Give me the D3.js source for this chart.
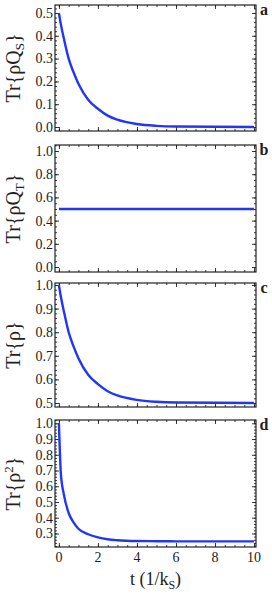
<!DOCTYPE html>
<html>
<head>
<meta charset="utf-8">
<script src="https://cdn.jsdelivr.net/npm/d3@7"></script>
<style>
  body { margin: 0; background: #fff; }
  svg { font-family: "Liberation Serif", "Times New Roman", serif; }
</style>
</head>
<body>
<div id="chart"></div>
<script>
// time axis (units of 1/kS), shared by all four panels
const t      = [0, 0.1, 0.25, 0.5, 0.75, 1, 1.5, 2, 2.5, 3, 4, 5, 6, 8, 10];
const trQS   = [0.5, 0.45, 0.39, 0.30, 0.24, 0.19, 0.12, 0.08, 0.05, 0.032, 0.013, 0.005, 0.002, 0.001, 0.0];
const trQT   = [0.5, 0.5, 0.5, 0.5, 0.5, 0.5, 0.5, 0.5, 0.5, 0.5, 0.5, 0.5, 0.5, 0.5, 0.5];
const trRho  = [1.0, 0.95, 0.89, 0.80, 0.74, 0.69, 0.62, 0.58, 0.55, 0.532, 0.513, 0.505, 0.502, 0.501, 0.5];
const trRho2 = [1.0, 0.68, 0.55, 0.43, 0.37, 0.33, 0.295, 0.275, 0.263, 0.257, 0.252, 0.251, 0.25, 0.25, 0.25];

const xTicks = [0, 2, 4, 6, 8, 10];
const panelLetters = ['a', 'b', 'c', 'd'];

const width = 272, height = 597;
const left = 55, right = 256;
const blue = '#2236f5';

const panels = [
  {values: trQS,   top: 5,   bottom: 131, domain: [-0.0175, 0.535], minor: 0.02,
   ticks: [0, 0.1, 0.2, 0.3, 0.4, 0.5], label: ['Tr{ρQ', 'S', '}', 'sub']},
  {values: trQT,   top: 145, bottom: 272, domain: [-0.043, 1.052], minor: 0.05,
   ticks: [0, 0.2, 0.4, 0.6, 0.8, 1.0], label: ['Tr{ρQ', 'T', '}', 'sub']},
  {values: trRho,  top: 283, bottom: 407, domain: [0.483, 1.0085], minor: 0.02,
   ticks: [0.5, 0.6, 0.7, 0.8, 0.9, 1.0], label: ['Tr{ρ}', '', '', '']},
  {values: trRho2, top: 420, bottom: 547, domain: [0.214, 1.021], minor: 0.02,
   ticks: [0.3, 0.4, 0.5, 0.6, 0.7, 0.8, 0.9, 1.0], label: ['Tr{ρ', '2', '}', 'sup']}
];

const svg = d3.select('#chart').append('svg')
  .attr('width', width).attr('height', height);

const x = d3.scaleLinear([-0.2, 10.1], [left, right]);
const xMinor = d3.range(0, 10.01, 0.5);

function minorRange(domain, step){
  let lo = Math.ceil(domain[0] / step - 1e-6) * step;
  return d3.range(lo, domain[1] + 1e-9, step).map(v => +v.toFixed(4));
}

panels.forEach((p, i) => {
  const y = d3.scaleLinear(p.domain, [p.bottom, p.top]);
  const g = svg.append('g');
  const h = p.bottom - p.top;

  // inward ticks on all four sides, labels only left/bottom
  const yMin = minorRange(p.domain, p.minor);
  g.append('g').attr('transform', `translate(${left},0)`)
    .call(d3.axisRight(y).tickValues(yMin).tickSize(2).tickFormat(''));
  g.append('g').attr('transform', `translate(${left},0)`)
    .call(d3.axisRight(y).tickValues(p.ticks).tickSize(4).tickFormat(''));
  g.append('g').attr('transform', `translate(${right},0)`)
    .call(d3.axisLeft(y).tickValues(yMin).tickSize(2).tickFormat(''));
  g.append('g').attr('transform', `translate(${right},0)`)
    .call(d3.axisLeft(y).tickValues(p.ticks).tickSize(4).tickFormat(''));

  g.append('g').attr('transform', `translate(0,${p.bottom})`)
    .call(d3.axisTop(x).tickValues(xMinor).tickSize(2).tickFormat(''));
  g.append('g').attr('transform', `translate(0,${p.bottom})`)
    .call(d3.axisTop(x).tickValues(xTicks).tickSize(4).tickFormat(''));
  g.append('g').attr('transform', `translate(0,${p.top})`)
    .call(d3.axisBottom(x).tickValues(xMinor).tickSize(2).tickFormat(''));
  g.append('g').attr('transform', `translate(0,${p.top})`)
    .call(d3.axisBottom(x).tickValues(xTicks).tickSize(4).tickFormat(''));

  g.selectAll('.domain').remove();
  g.selectAll('.tick line').attr('stroke', '#222').attr('stroke-width', 0.9);

  // y tick labels
  g.selectAll('text.ylab').data(p.ticks).join('text')
    .attr('class', 'ylab')
    .attr('x', left - 2).attr('y', d => y(d))
    .attr('dy', '0.35em').attr('text-anchor', 'end')
    .style('font-size', '14px').attr('fill', '#222')
    .text(d => d.toFixed(1));

  // curve, clipped to the frame
  g.append('clipPath').attr('id', 'clip' + i)
    .append('rect').attr('x', left).attr('y', p.top).attr('width', right - left).attr('height', h);
  const line = d3.line().x(d => x(d[0])).y(d => y(d[1])).curve(d3.curveMonotoneX);
  g.append('path')
    .datum(t.map((tv, k) => [tv, p.values[k]]))
    .attr('clip-path', `url(#clip${i})`)
    .attr('fill', 'none').attr('stroke', blue).attr('stroke-width', 2.4)
    .attr('d', line);

  // frame
  g.append('rect').attr('x', left).attr('y', p.top)
    .attr('width', right - left).attr('height', h)
    .attr('fill', 'none').attr('stroke', '#222').attr('stroke-width', 1.2);

  // y axis title
  const yl = g.append('text')
    .attr('transform', `translate(20,${(p.top + p.bottom) / 2})rotate(-90)`)
    .attr('text-anchor', 'middle').style('font-size', '20px').attr('fill', '#222');
  yl.append('tspan').text(p.label[0]);
  if (p.label[1]) {
    yl.append('tspan').text(p.label[1]).style('font-size', '13px')
      .attr('dy', p.label[3] == 'sub' ? 4 : -7);
    yl.append('tspan').text(p.label[2])
      .attr('dy', p.label[3] == 'sub' ? -4 : 7);
  }

  // panel letter
  g.append('text').attr('x', 264).attr('y', p.top + 10)
    .attr('text-anchor', 'middle').style('font-size', '16px').style('font-weight', 'bold')
    .attr('fill', '#222').text(panelLetters[i]);

  // x tick labels on the last panel only
  if (i == panels.length - 1) {
    g.selectAll('text.xlab').data(xTicks).join('text')
      .attr('class', 'xlab')
      .attr('x', d => x(d)).attr('y', p.bottom + 15)
      .attr('text-anchor', 'middle').style('font-size', '14px').attr('fill', '#222')
      .text(d => d);
  }
});

// x axis title
const xt = svg.append('text').attr('x', (left + right) / 2).attr('y', 585)
  .attr('text-anchor', 'middle').style('font-size', '18px').attr('fill', '#222');
xt.append('tspan').text('t (1/k');
xt.append('tspan').text('S').style('font-size', '12px').attr('dy', 4);
xt.append('tspan').text(')').attr('dy', -4);
</script>
</body>
</html>
